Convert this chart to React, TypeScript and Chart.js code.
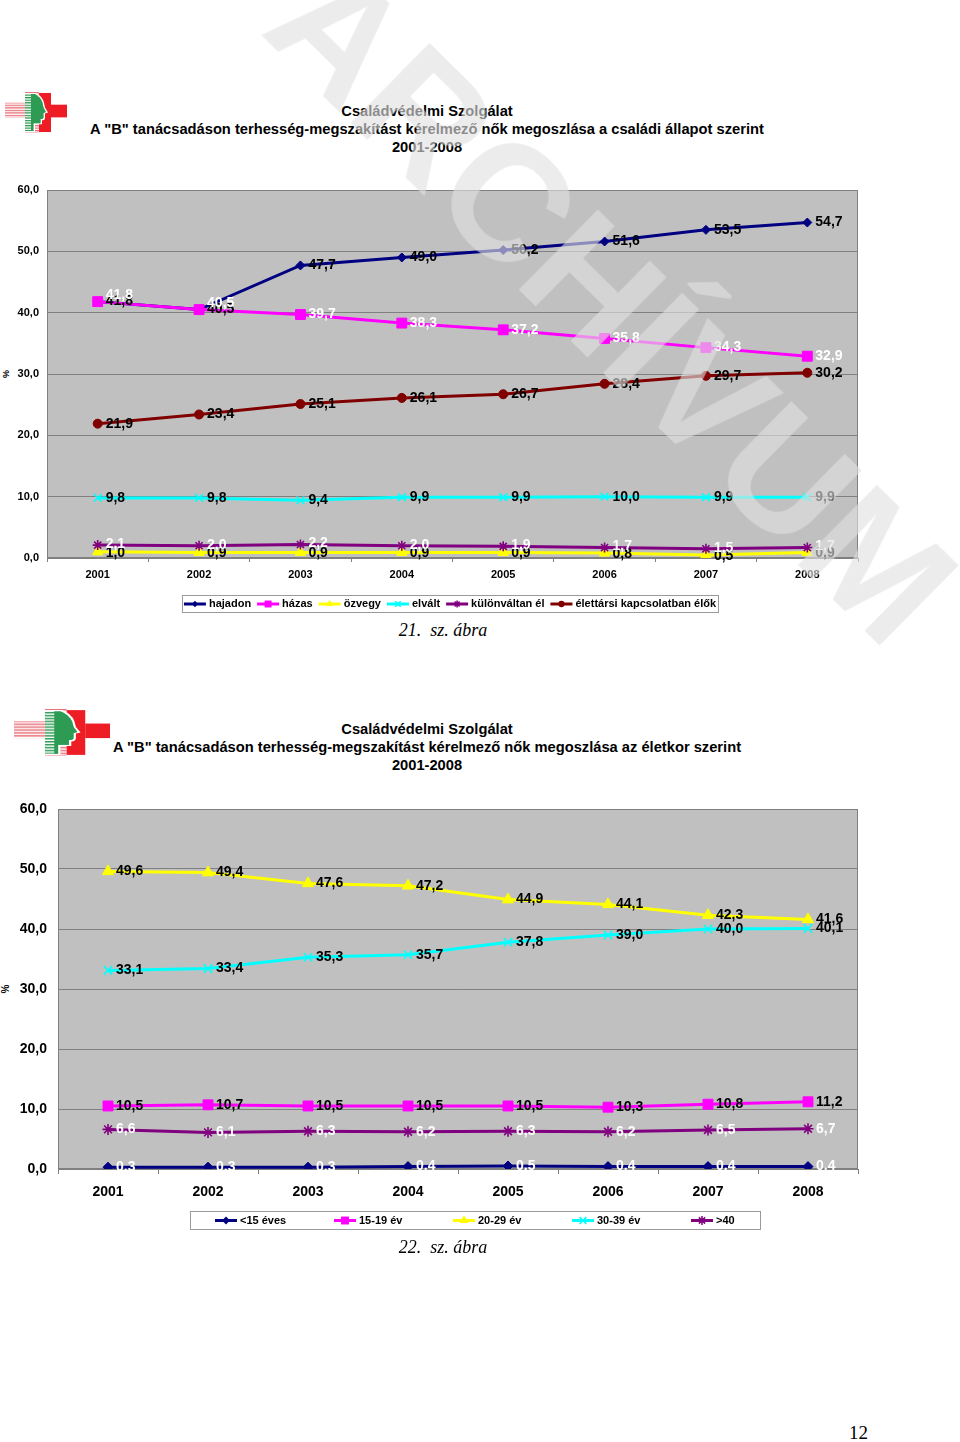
import React, { useEffect, useRef } from 'react';
import { Chart, registerables } from 'chart.js';

Chart.register(...registerables);

const SANS = '"Liberation Sans", Arial, Helvetica, sans-serif';
const SERIF = '"Liberation Serif", "Times New Roman", serif';

// ---------- DATA ----------
const years = ['2001', '2002', '2003', '2004', '2005', '2006', '2007', '2008'];
const yTicks = [0, 10, 20, 30, 40, 50, 60];

// Chart 21 – családi állapot
const hajadon = [41.8, 40.5, 47.7, 49.0, 50.2, 51.6, 53.5, 54.7];
const hazas = [41.8, 40.5, 39.7, 38.3, 37.2, 35.8, 34.3, 32.9];
const ozvegy = [1.0, 0.9, 0.9, 0.9, 0.9, 0.8, 0.5, 0.9];
const elvalt = [9.8, 9.8, 9.4, 9.9, 9.9, 10.0, 9.9, 9.9];
const kulonvaltan = [2.1, 2.0, 2.2, 2.0, 1.9, 1.7, 1.5, 1.7];
const elettarsi = [21.9, 23.4, 25.1, 26.1, 26.7, 28.4, 29.7, 30.2];

// Chart 22 – életkor
const age15 = [0.3, 0.3, 0.3, 0.4, 0.5, 0.4, 0.4, 0.4];
const age1519 = [10.5, 10.7, 10.5, 10.5, 10.5, 10.3, 10.8, 11.2];
const age2029 = [49.6, 49.4, 47.6, 47.2, 44.9, 44.1, 42.3, 41.6];
const age3039 = [33.1, 33.4, 35.3, 35.7, 37.8, 39.0, 40.0, 40.1];
const age40 = [6.6, 6.1, 6.3, 6.2, 6.3, 6.2, 6.5, 6.7];

const fmt = (v: number) => Number(v).toFixed(1).replace('.', ',');

type Series = {
  label: string;
  data: number[];
  color: string;
  pointStyle: string;
  radius: number;
  labelColor: string;
  labelDy?: (i: number) => number;
};

const series1: Series[] = [
  { label: 'hajadon', data: hajadon, color: '#000080', pointStyle: 'rectRot', radius: 4.5, labelColor: '#000000' },
  { label: 'házas', data: hazas, color: '#FF00FF', pointStyle: 'rect', radius: 7, labelColor: '#FFFFFF', labelDy: (i) => (i < 2 ? -6 : 0) },
  { label: 'özvegy', data: ozvegy, color: '#FFFF00', pointStyle: 'triangle', radius: 6, labelColor: '#000000', labelDy: () => 1 },
  { label: 'elvált', data: elvalt, color: '#00FFFF', pointStyle: 'crossRot', radius: 5.5, labelColor: '#000000' },
  { label: 'különváltan él', data: kulonvaltan, color: '#800080', pointStyle: 'star', radius: 5, labelColor: '#FFFFFF', labelDy: () => -1 },
  { label: 'élettársi kapcsolatban élők', data: elettarsi, color: '#800000', pointStyle: 'circle', radius: 4.5, labelColor: '#000000' },
];

const series2: Series[] = [
  { label: '<15 éves', data: age15, color: '#000080', pointStyle: 'rectRot', radius: 5, labelColor: '#FFFFFF' },
  { label: '15-19 év', data: age1519, color: '#FF00FF', pointStyle: 'rect', radius: 7, labelColor: '#000000' },
  { label: '20-29 év', data: age2029, color: '#FFFF00', pointStyle: 'triangle', radius: 6.5, labelColor: '#000000' },
  { label: '30-39 év', data: age3039, color: '#00FFFF', pointStyle: 'crossRot', radius: 6, labelColor: '#000000' },
  { label: '>40', data: age40, color: '#800080', pointStyle: 'star', radius: 5.5, labelColor: '#FFFFFF' },
];

function drawMarker(ctx: CanvasRenderingContext2D, style: string, x: number, y: number, r: number, color: string) {
  ctx.save();
  ctx.fillStyle = color;
  ctx.strokeStyle = color;
  ctx.lineWidth = 1.5;
  ctx.beginPath();
  const s = r * Math.SQRT1_2;
  switch (style) {
    case 'rectRot':
      ctx.moveTo(x, y - r);
      ctx.lineTo(x + r, y);
      ctx.lineTo(x, y + r);
      ctx.lineTo(x - r, y);
      ctx.closePath();
      ctx.fill();
      break;
    case 'rect':
      ctx.rect(x - s, y - s, 2 * s, 2 * s);
      ctx.fill();
      break;
    case 'triangle':
      ctx.moveTo(x, y - r);
      ctx.lineTo(x + r * 0.866, y + r * 0.5);
      ctx.lineTo(x - r * 0.866, y + r * 0.5);
      ctx.closePath();
      ctx.fill();
      break;
    case 'crossRot':
      ctx.moveTo(x - s, y - s);
      ctx.lineTo(x + s, y + s);
      ctx.moveTo(x + s, y - s);
      ctx.lineTo(x - s, y + s);
      ctx.stroke();
      break;
    case 'star':
      ctx.moveTo(x - s, y - s);
      ctx.lineTo(x + s, y + s);
      ctx.moveTo(x + s, y - s);
      ctx.lineTo(x - s, y + s);
      ctx.moveTo(x, y - r);
      ctx.lineTo(x, y + r);
      ctx.stroke();
      break;
    default:
      ctx.arc(x, y, r, 0, Math.PI * 2);
      ctx.fill();
  }
  ctx.restore();
}

type LegendCfg = {
  top: number;
  height: number;
  fontSize: number;
  mode: 'flow' | 'slots';
  center?: number;
  left?: number;
  width?: number;
  padLeft?: number;
  step?: number;
  markerScale: number;
};

type ChartCfg = {
  series: Series[];
  width: number;
  height: number;
  padTop: number;
  padRight: number;
  padBottom: number;
  yAxisWidth: number;
  xAxisHeight: number;
  tickFont: number;
  labelFont: number;
  yTickPad: number;
  xTickPad: number;
  tickLen: number;
  lineWidth: number;
  legend: LegendCfg;
};

function LineChartBox({ cfg, top }: { cfg: ChartCfg; top: number }) {
  const ref = useRef<HTMLCanvasElement | null>(null);

  useEffect(() => {
    if (!ref.current) return;

    const bgPlugin = {
      id: 'plotBg',
      beforeDraw(chart: any) {
        const { ctx, chartArea: a } = chart;
        ctx.save();
        ctx.fillStyle = '#C0C0C0';
        ctx.fillRect(a.left, a.top, a.right - a.left, a.bottom - a.top);
        ctx.restore();
      },
      beforeDatasetsDraw(chart: any) {
        const { ctx, chartArea: a } = chart;
        ctx.save();
        ctx.strokeStyle = '#808080';
        ctx.lineWidth = 1;
        ctx.strokeRect(Math.round(a.left) + 0.5, Math.round(a.top) + 0.5, Math.round(a.right - a.left) - 1, Math.round(a.bottom - a.top) - 1);
        ctx.restore();
      },
    };

    const labelPlugin = {
      id: 'valueLabels',
      afterDatasetsDraw(chart: any) {
        const ctx = chart.ctx as CanvasRenderingContext2D;
        ctx.save();
        ctx.font = `bold ${cfg.labelFont}px ${SANS}`;
        ctx.textAlign = 'left';
        ctx.textBaseline = 'middle';
        cfg.series.forEach((s, di) => {
          const meta = chart.getDatasetMeta(di);
          meta.data.forEach((pt: any, i: number) => {
            ctx.fillStyle = s.labelColor;
            const dy = s.labelDy ? s.labelDy(i) : 0;
            ctx.fillText(fmt(s.data[i]), pt.x + 8, pt.y + dy);
          });
        });
        ctx.restore();
      },
    };

    const legendPlugin = {
      id: 'boxLegend',
      afterDraw(chart: any) {
        const L = cfg.legend;
        const ctx = chart.ctx as CanvasRenderingContext2D;
        ctx.save();
        ctx.font = `bold ${L.fontSize}px ${SANS}`;
        const lineLen = 22;
        const gapText = 3;
        const gapAfter = 6;
        const widths = cfg.series.map((s) => ctx.measureText(s.label).width);
        let boxLeft: number;
        let boxWidth: number;
        const padLeft = L.padLeft ?? 3;
        if (L.mode === 'flow') {
          const content = widths.reduce((acc, w) => acc + lineLen + gapText + w + gapAfter, 0) - gapAfter;
          boxWidth = content + padLeft * 2;
          boxLeft = (L.center ?? chart.width / 2) - boxWidth / 2;
        } else {
          boxLeft = L.left ?? 0;
          boxWidth = L.width ?? 400;
        }
        ctx.strokeStyle = '#9A9A9A';
        ctx.lineWidth = 1;
        ctx.fillStyle = '#FFFFFF';
        ctx.fillRect(Math.round(boxLeft) + 0.5, L.top + 0.5, Math.round(boxWidth), L.height);
        ctx.strokeRect(Math.round(boxLeft) + 0.5, L.top + 0.5, Math.round(boxWidth), L.height);
        const cy = L.top + L.height / 2 + 0.5;
        let x = boxLeft + padLeft;
        cfg.series.forEach((s, i) => {
          const sx = L.mode === 'slots' ? boxLeft + padLeft + i * (L.step ?? 100) : x;
          ctx.strokeStyle = s.color;
          ctx.lineWidth = 3;
          ctx.beginPath();
          ctx.moveTo(sx, cy);
          ctx.lineTo(sx + lineLen, cy);
          ctx.stroke();
          drawMarker(ctx, s.pointStyle, sx + lineLen / 2, cy, s.radius * L.markerScale, s.color);
          ctx.fillStyle = '#000000';
          ctx.textAlign = 'left';
          ctx.textBaseline = 'middle';
          ctx.fillText(s.label, sx + lineLen + gapText, cy);
          x = sx + lineLen + gapText + widths[i] + gapAfter;
        });
        ctx.restore();
      },
    };

    const chart = new Chart(ref.current, {
      type: 'line',
      data: {
        labels: years,
        datasets: cfg.series.map((s, i) => ({
          label: s.label,
          data: s.data,
          order: -i,
          borderColor: s.color,
          backgroundColor: s.color,
          borderWidth: cfg.lineWidth,
          pointStyle: s.pointStyle as any,
          pointRadius: s.radius,
          pointBackgroundColor: s.color,
          pointBorderColor: s.color,
          pointBorderWidth: s.pointStyle === 'crossRot' || s.pointStyle === 'star' ? 1.6 : 1,
          tension: 0,
          fill: false,
        })),
      },
      options: {
        animation: false,
        responsive: false,
        maintainAspectRatio: false,
        events: [],
        layout: { padding: { top: cfg.padTop, right: cfg.padRight, bottom: cfg.padBottom, left: 0 } },
        plugins: {
          legend: { display: false },
          tooltip: { enabled: false },
          title: { display: false },
        },
        scales: {
          x: {
            type: 'category',
            offset: true,
            grid: {
              display: true,
              offset: true,
              drawOnChartArea: false,
              drawTicks: true,
              tickLength: cfg.tickLen,
              color: '#808080',
            },
            border: { display: true, color: '#808080', width: 1 },
            ticks: {
              color: '#000000',
              font: { family: SANS, size: cfg.tickFont, weight: 'bold' },
              padding: cfg.xTickPad,
              maxRotation: 0,
              autoSkip: false,
            },
            afterFit: (scale: any) => {
              scale.height = cfg.xAxisHeight;
              scale.paddingLeft = 0;
              scale.paddingRight = 0;
            },
          },
          y: {
            type: 'linear',
            min: yTicks[0],
            max: yTicks[yTicks.length - 1],
            afterBuildTicks: (scale: any) => {
              scale.ticks = yTicks.map((v) => ({ value: v }));
            },
            ticks: {
              color: '#000000',
              font: { family: SANS, size: cfg.tickFont, weight: 'bold' },
              padding: cfg.yTickPad,
              callback: (v: any) => fmt(Number(v)),
            },
            grid: { color: '#808080', lineWidth: 1, drawTicks: false },
            border: { display: true, color: '#808080', width: 1 },
            afterFit: (scale: any) => {
              scale.width = cfg.yAxisWidth;
              scale.paddingTop = 0;
              scale.paddingBottom = 0;
            },
          },
        },
      } as any,
      plugins: [bgPlugin, labelPlugin, legendPlugin],
    });

    return () => chart.destroy();
  }, []);

  return (
    <canvas
      ref={ref}
      width={cfg.width}
      height={cfg.height}
      style={{ position: 'absolute', left: 0, top, width: cfg.width, height: cfg.height }}
    />
  );
}

const cfg1: ChartCfg = {
  series: series1,
  width: 870,
  height: 440,
  padTop: 10,
  padRight: 12,
  padBottom: 40,
  yAxisWidth: 47,
  xAxisHeight: 22,
  tickFont: 11,
  labelFont: 14,
  yTickPad: 8,
  xTickPad: 6,
  tickLen: 4,
  lineWidth: 3,
  legend: { top: 415, height: 17, fontSize: 11, mode: 'flow', center: 450, padLeft: 2, markerScale: 0.7 },
};

const cfg2: ChartCfg = {
  series: series2,
  width: 870,
  height: 445,
  padTop: 14,
  padRight: 12,
  padBottom: 41,
  yAxisWidth: 58,
  xAxisHeight: 30,
  tickFont: 14,
  labelFont: 14,
  yTickPad: 11,
  xTickPad: 10,
  tickLen: 5,
  lineWidth: 3,
  legend: { top: 416, height: 18, fontSize: 11, mode: 'slots', left: 190, width: 570, padLeft: 25, step: 119, markerScale: 0.8 },
};

function Logo({ left, top, width, height, id }: { left: number; top: number; width: number; height: number; id: string }) {
  return (
    <svg
      viewBox="0 0 62 42"
      preserveAspectRatio="none"
      style={{ position: 'absolute', left, top, width, height }}
    >
      <defs>
        <pattern id={`stripes-${id}`} width="4" height="2.6" patternUnits="userSpaceOnUse">
          <rect x="0" y="0" width="4" height="1.3" fill="#E8707A" />
        </pattern>
        <pattern id={`gstripes-${id}`} width="4" height="2.6" patternUnits="userSpaceOnUse">
          <rect x="0" y="0" width="4" height="1.5" fill="#2E9B55" />
          <rect x="0" y="1.5" width="4" height="1.1" fill="#FFFFFF" />
        </pattern>
      </defs>
      <rect x="0" y="11" width="20" height="15" fill={`url(#stripes-${id})`} />
      <rect x="20" y="0" width="14" height="42" fill={`url(#stripes-${id})`} />
      <rect x="34" y="1" width="12" height="40" fill="#EE1C25" />
      <rect x="46" y="13" width="16" height="13" fill="#EE1C25" />
      <path
        d="M20 1 L31 1 Q37 4 39 11 L40 16 L43 21 L40 22 L40 26 Q40 29 37 29 L37 33 L30 33 L30 41 L20 41 Z"
        fill="#FFFFFF"
      />
      <path
        d="M20 2 L30 2 Q35.5 5 37.5 11 L38.5 16 L41 20.5 L38.5 21.5 L38.5 25.5 Q38.5 27.8 35.5 27.8 L35.5 32 L28.5 32 L28.5 40 L20 40 Z"
        fill={`url(#gstripes-${id})`}
      />
      <path
        d="M26 2 L30 2 Q35.5 5 37.5 11 L38.5 16 L41 20.5 L38.5 21.5 L38.5 25.5 Q38.5 27.8 35.5 27.8 L35.5 32 L28.5 32 L28.5 40 L26 40 Z"
        fill="#2E9B55"
      />
    </svg>
  );
}

const titleStyle: React.CSSProperties = {
  position: 'absolute',
  left: 0,
  width: 854,
  textAlign: 'center',
  fontFamily: SANS,
  fontWeight: 'bold',
  fontSize: 14.7,
  lineHeight: '18px',
  color: '#000',
  whiteSpace: 'nowrap',
};

const captionStyle: React.CSSProperties = {
  position: 'absolute',
  left: 0,
  width: 886,
  textAlign: 'center',
  fontFamily: SERIF,
  fontStyle: 'italic',
  fontSize: 18,
  lineHeight: '20px',
  color: '#000',
  whiteSpace: 'pre',
};

const pctStyle: React.CSSProperties = {
  position: 'absolute',
  fontFamily: SANS,
  fontWeight: 'bold',
  fontSize: 9,
  lineHeight: '10px',
  transform: 'rotate(-90deg)',
  transformOrigin: 'center center',
  color: '#000',
};

export default function App() {
  return (
    <div
      style={{
        position: 'absolute',
        left: 0,
        top: 0,
        width: 960,
        height: 1442,
        overflow: 'hidden',
        background: '#FFFFFF',
      }}
    >
      {/* Chart 21 */}
      <Logo left={5} top={92} width={62} height={41} id="a" />
      <div style={{ ...titleStyle, top: 102 }}>
        <div>Családvédelmi Szolgálat</div>
        <div>A "B" tanácsadáson terhesség-megszakítást kérelmező nők megoszlása a családi állapot szerint</div>
        <div>2001-2008</div>
      </div>
      <div style={{ ...pctStyle, left: 2, top: 369 }}>%</div>
      <LineChartBox cfg={cfg1} top={180} />
      <div style={{ ...captionStyle, top: 620 }}>{'21.  sz. ábra'}</div>

      {/* Chart 22 */}
      <Logo left={14} top={709} width={96} height={47} id="b" />
      <div style={{ ...titleStyle, top: 720 }}>
        <div>Családvédelmi Szolgálat</div>
        <div>A "B" tanácsadáson terhesség-megszakítást kérelmező nők megoszlása az életkor szerint</div>
        <div>2001-2008</div>
      </div>
      <div style={{ ...pctStyle, left: 2, top: 984, fontSize: 10 }}>%</div>
      <LineChartBox cfg={cfg2} top={795} />
      <div style={{ ...captionStyle, top: 1237 }}>{'22.  sz. ábra'}</div>

      {/* page number */}
      <div
        style={{
          position: 'absolute',
          left: 849,
          top: 1423,
          fontFamily: SERIF,
          fontSize: 19,
          lineHeight: '20px',
          color: '#000',
        }}
      >
        12
      </div>

      {/* watermark */}
      <div
        style={{
          position: 'absolute',
          left: 612,
          top: 303,
          transform: 'translate(-50%, -50%) rotate(44.6deg)',
          fontFamily: SANS,
          fontWeight: 'bold',
          fontSize: 164,
          lineHeight: '164px',
          color: 'rgba(225,225,225,0.62)',
          whiteSpace: 'nowrap',
          pointerEvents: 'none',
          zIndex: 10,
        }}
      >
        ARCHÍVUM
      </div>
    </div>
  );
}
